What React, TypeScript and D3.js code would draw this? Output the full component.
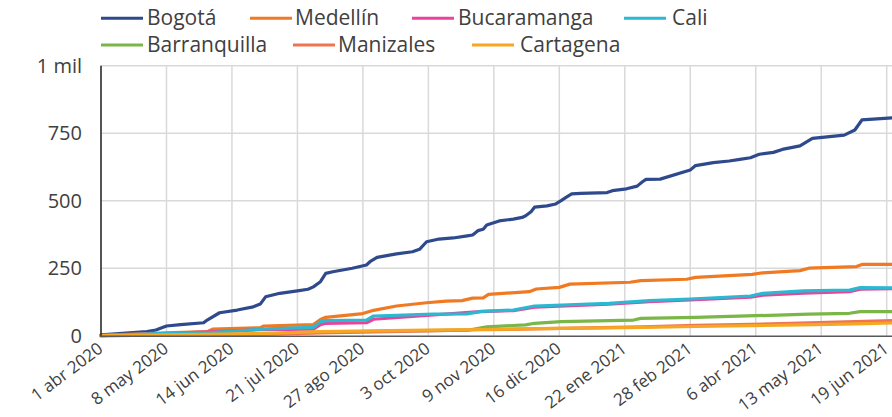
import React from "react";
import * as d3 from "d3";

// cumulative values per city
const cities = ["Bogotá", "Medellín", "Bucaramanga", "Cali", "Barranquilla", "Manizales", "Cartagena"];

const bogota: [string, number][] = [
  ["2020-04-01", 3], ["2020-04-27", 15], ["2020-05-02", 21], ["2020-05-08", 36], ["2020-05-16", 41],
  ["2020-05-29", 48], ["2020-05-31", 58], ["2020-06-07", 85], ["2020-06-17", 95], ["2020-06-26", 107],
  ["2020-06-30", 117], ["2020-07-03", 144], ["2020-07-11", 157], ["2020-07-21", 166], ["2020-07-27", 172],
  ["2020-07-30", 181], ["2020-08-03", 200], ["2020-08-06", 231], ["2020-08-10", 237], ["2020-08-21", 250],
  ["2020-08-29", 262], ["2020-08-31", 274], ["2020-09-04", 290], ["2020-09-15", 303], ["2020-09-24", 311],
  ["2020-09-28", 320], ["2020-10-02", 348], ["2020-10-09", 358], ["2020-10-17", 362], ["2020-10-25", 370],
  ["2020-10-28", 373], ["2020-10-31", 389], ["2020-11-03", 394], ["2020-11-05", 410], ["2020-11-12", 425],
  ["2020-11-20", 432], ["2020-11-25", 438], ["2020-11-27", 444], ["2020-11-30", 459], ["2020-12-02", 476],
  ["2020-12-09", 481], ["2020-12-14", 488], ["2020-12-17", 500], ["2020-12-20", 513], ["2020-12-23", 525],
  ["2020-12-28", 527], ["2021-01-12", 530], ["2021-01-15", 537], ["2021-01-23", 544], ["2021-01-29", 554],
  ["2021-02-01", 570], ["2021-02-03", 579], ["2021-02-11", 580], ["2021-02-28", 614], ["2021-03-03", 630],
  ["2021-03-13", 641], ["2021-03-22", 647], ["2021-03-28", 653], ["2021-04-03", 659], ["2021-04-08", 672],
  ["2021-04-16", 679], ["2021-04-21", 690], ["2021-05-01", 703], ["2021-05-08", 731], ["2021-05-26", 743],
  ["2021-06-01", 762], ["2021-06-05", 799], ["2021-06-22", 807],
];

const medellin: [string, number][] = [
  ["2020-04-01", 1], ["2020-05-08", 11], ["2020-05-31", 15], ["2020-06-03", 24], ["2020-06-30", 30],
  ["2020-07-02", 36], ["2020-07-30", 41], ["2020-08-03", 60], ["2020-08-06", 68], ["2020-08-27", 82],
  ["2020-09-02", 94], ["2020-09-15", 110], ["2020-10-02", 122], ["2020-10-13", 128], ["2020-10-22", 130],
  ["2020-10-28", 139], ["2020-11-03", 140], ["2020-11-06", 153], ["2020-11-29", 163], ["2020-12-03", 173],
  ["2020-12-16", 179], ["2020-12-22", 191], ["2021-01-25", 198], ["2021-01-31", 204], ["2021-02-26", 209],
  ["2021-03-03", 216], ["2021-04-04", 227], ["2021-04-10", 233], ["2021-05-01", 241], ["2021-05-06", 250],
  ["2021-06-02", 256], ["2021-06-05", 264], ["2021-06-22", 264],
];

const bucaramanga: [string, number][] = [
  ["2020-04-01", 0], ["2020-05-08", 8], ["2020-06-30", 22], ["2020-07-30", 24], ["2020-08-03", 41],
  ["2020-08-06", 46], ["2020-08-29", 48], ["2020-09-02", 61], ["2020-11-01", 89], ["2020-11-20", 93],
  ["2020-12-02", 106], ["2021-01-13", 117], ["2021-02-05", 126], ["2021-02-28", 133], ["2021-04-03", 143],
  ["2021-04-10", 150], ["2021-05-03", 158], ["2021-05-29", 163], ["2021-06-04", 172], ["2021-06-22", 174],
];

const cali: [string, number][] = [
  ["2020-04-01", 0], ["2020-05-08", 9], ["2020-05-31", 11], ["2020-06-30", 24], ["2020-07-30", 31],
  ["2020-08-03", 52], ["2020-08-06", 56], ["2020-08-29", 58], ["2020-09-02", 73], ["2020-10-06", 80],
  ["2020-10-25", 81], ["2020-11-02", 90], ["2020-11-20", 95], ["2020-12-02", 110], ["2021-01-13", 120],
  ["2021-02-05", 130], ["2021-02-28", 136], ["2021-04-03", 147], ["2021-04-10", 157], ["2021-05-03", 166],
  ["2021-05-29", 169], ["2021-06-04", 178], ["2021-06-22", 177],
];

const barranquilla: [string, number][] = [
  ["2020-04-01", 0], ["2020-05-08", 2], ["2020-06-30", 6], ["2020-08-03", 12], ["2020-09-02", 16],
  ["2020-10-02", 19], ["2020-10-26", 21], ["2020-11-05", 33], ["2020-11-27", 40], ["2020-12-02", 46],
  ["2020-12-17", 52], ["2021-01-27", 58], ["2021-01-31", 64], ["2021-03-03", 68], ["2021-04-06", 74],
  ["2021-05-06", 80], ["2021-05-29", 83], ["2021-06-04", 89], ["2021-06-22", 89],
];

const manizales: [string, number][] = [
  ["2020-04-01", 0], ["2020-05-08", 2], ["2020-06-30", 5], ["2020-08-03", 10], ["2020-09-02", 14],
  ["2020-10-02", 18], ["2020-11-01", 22], ["2020-12-02", 25], ["2021-01-01", 29], ["2021-02-01", 33],
  ["2021-03-03", 38], ["2021-04-03", 42], ["2021-05-01", 47], ["2021-06-01", 52], ["2021-06-22", 56],
];

const cartagena: [string, number][] = [
  ["2020-04-01", 0], ["2020-05-08", 3], ["2020-06-30", 8], ["2020-08-03", 15], ["2020-09-02", 18],
  ["2020-10-02", 21], ["2020-11-01", 23], ["2020-12-02", 26], ["2021-01-01", 28], ["2021-02-01", 31],
  ["2021-03-03", 34], ["2021-04-03", 37], ["2021-05-01", 40], ["2021-06-01", 44], ["2021-06-22", 47],
];

const tickDates = [
  "2020-04-01", "2020-05-08", "2020-06-14", "2020-07-21", "2020-08-27", "2020-10-03", "2020-11-09",
  "2020-12-16", "2021-01-22", "2021-02-28", "2021-04-06", "2021-05-13", "2021-06-19",
];
const tickLabels = [
  "1 abr 2020", "8 may 2020", "14 jun 2020", "21 jul 2020", "27 ago 2020", "3 oct 2020", "9 nov 2020",
  "16 dic 2020", "22 ene 2021", "28 feb 2021", "6 abr 2021", "13 may 2021", "19 jun 2021",
];
const yTicks = [0, 250, 500, 750, 1000];
const yTickLabels = ["0", "250", "500", "750", "1 mil"];

const colors = ["#2e4a8c", "#f07a23", "#e8449a", "#2bb8d0", "#7ab648", "#ee7453", "#f5a623"];
// legend slots: [row, swatch x, text x]
const legendPos: [number, number, number][] = [
  [0, 101, 147], [0, 250, 295], [0, 412, 458], [0, 624, 672],
  [1, 101, 147], [1, 293, 338], [1, 472, 520],
];

const W = 892;
const H = 417;
const FONT = "'Open Sans', 'Noto Sans', sans-serif";
const TEXT = "#404040";

export default function App() {
  const parse = d3.timeParse("%Y-%m-%d");
  const allSeries = [bogota, medellin, bucaramanga, cali, barranquilla, manizales, cartagena];

  const x = d3
    .scaleTime()
    .domain([parse("2020-04-01")!, parse("2021-06-22")!])
    .range([101, 892]);
  const y = d3.scaleLinear().domain([0, 1000]).range([335.7, 65.7]);

  const line = d3
    .line<[string, number]>()
    .x((d) => x(parse(d[0])!))
    .y((d) => y(d[1]));

  const [x0, x1] = x.range();

  return (
    <svg
      width={W}
      height={H}
      style={{ position: "absolute", left: 0, top: 0, background: "#fff" }}
      fontFamily={FONT}
    >
      {/* legend */}
      {cities.map((c, i) => {
        const [row, sx, tx] = legendPos[i];
        const cy = 18.3 + row * 26.7;
        return (
          <g key={c}>
            <line x1={sx} x2={sx + 42} y1={cy} y2={cy} stroke={colors[i]} strokeWidth={3} />
            <text x={tx} y={cy + 7} fontSize={21} fill={TEXT}>
              {c}
            </text>
          </g>
        );
      })}

      {/* grid */}
      {tickDates.map((t) => (
        <line
          key={t}
          x1={x(parse(t)!)}
          x2={x(parse(t)!)}
          y1={y(1000)}
          y2={y(0)}
          stroke="#d9d9d9"
          strokeWidth={1.5}
        />
      ))}
      {yTicks.slice(1).map((v) => (
        <line key={v} x1={x0} x2={x1} y1={y(v)} y2={y(v)} stroke="#d9d9d9" strokeWidth={1.5} />
      ))}

      {/* y labels */}
      {yTicks.map((v, i) => (
        <text key={v} x={82} y={y(v)} dy="0.35em" textAnchor="end" fontSize={20} fill={TEXT}>
          {yTickLabels[i]}
        </text>
      ))}

      {/* series */}
      {allSeries.map((s, i) => (
        <path
          key={cities[i]}
          d={line(s) ?? ""}
          fill="none"
          stroke={colors[i]}
          strokeWidth={3.2}
          strokeLinejoin="round"
          strokeLinecap="round"
        />
      ))}

      {/* axes */}
      <line x1={x0} x2={x0} y1={y(1000)} y2={y(0) + 1} stroke="#262626" strokeWidth={1.5} />
      <line x1={x0} x2={x1} y1={y(0) + 0.5} y2={y(0) + 0.5} stroke="#595959" strokeWidth={1.5} />

      {/* x labels */}
      {tickDates.map((t, i) => {
        const tx = x(parse(t)!) + 3;
        const ty = 351;
        return (
          <text
            key={t}
            x={tx}
            y={ty}
            transform={`rotate(-37 ${tx} ${ty})`}
            textAnchor="end"
            fontSize={17}
            fill={TEXT}
          >
            {tickLabels[i]}
          </text>
        );
      })}
    </svg>
  );
}
